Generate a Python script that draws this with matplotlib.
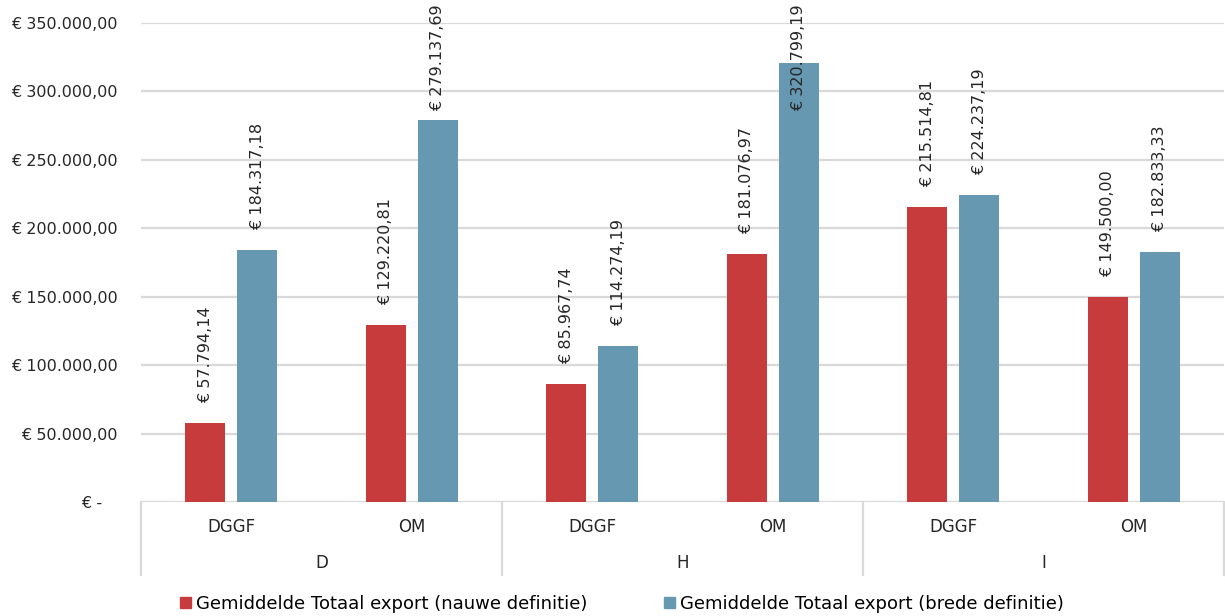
import matplotlib
matplotlib.use("Agg")
import matplotlib.pyplot as plt
from matplotlib.lines import Line2D
from matplotlib.patches import Patch

plt.rcParams['font.family'] = ['DejaVu Sans']

# data
categories = ['DGGF', 'OM', 'DGGF', 'OM', 'DGGF', 'OM']
groups = ['D', 'H', 'I']
nauwe = [57794.14, 129220.81, 85967.74, 181076.97, 215514.81, 149500.00]
brede = [184317.18, 279137.69, 114274.19, 320799.19, 224237.19, 182833.33]
series_names = ['Gemiddelde Totaal export (nauwe definitie)',
                'Gemiddelde Totaal export (brede definitie)']
yticks = [0, 50000, 100000, 150000, 200000, 250000, 300000, 350000]

RED = '#C83B3C'
BLUE = '#6699B1'
GRID = '#D9D9D9'
TXT = '#262626'


def euro(v):
    if v == 0:
        return '€ -'
    s = f"{v:,.2f}"
    s = s.replace(',', 'X').replace('.', ',').replace('X', '.')
    return '€ ' + s


W, H = 1225, 616
fig = plt.figure(figsize=(W / 100, H / 100), dpi=100)
ax = fig.add_axes([141 / W, (H - 502) / H, (1224 - 141) / W, (502 - 23) / H])

x = list(range(len(categories)))
bw = 0.222
off = 0.144
b1 = ax.bar([i - off for i in x], nauwe, bw, color=RED, zorder=3)
b2 = ax.bar([i + off for i in x], brede, bw, color=BLUE, zorder=3)

ax.set_xlim(-0.5, len(categories) - 0.5)
ax.set_ylim(0, 350000)
ax.set_yticks(yticks)
ylabels = [euro(v) for v in yticks]
ylabels[0] = ylabels[0] + '   '
ax.set_yticklabels(ylabels, fontsize=11.5, color=TXT)
ax.tick_params(axis='y', length=0, pad=17)
ax.set_xticks([])
for s in ax.spines.values():
    s.set_visible(False)
ax.grid(axis='y', color=GRID, linewidth=1.6, zorder=0)

# data labels
anns = []
for bars, vals in ((b1, nauwe), (b2, brede)):
    for rect, v in zip(bars, vals):
        a = ax.annotate(euro(v), (rect.get_x() + rect.get_width() / 2, v),
                        xytext=(0, 20), textcoords='offset pixels',
                        rotation=90, ha='center', va='bottom',
                        fontsize=11.5, color=TXT, annotation_clip=False, zorder=4)
        anns.append(a)

fig.canvas.draw()
for a in anns:
    bb = a.get_window_extent()
    if bb.y1 > H - 4:
        a.xyann = (0, 20 - (bb.y1 - (H - 4)))

# multi-level x axis
axh = 502 - 23
for i, c in enumerate(categories):
    ax.text(i, -25 / axh, c, transform=ax.get_xaxis_transform(),
            ha='center', va='center', fontsize=12, color=TXT)
for g, name in enumerate(groups):
    ax.text(2 * g + 0.5, -61 / axh, name, transform=ax.get_xaxis_transform(),
            ha='center', va='center', fontsize=12, color=TXT)
for xs in [-0.5, 1.5, 3.5, 5.5]:
    ax.add_line(Line2D([xs, xs], [0, -73 / axh], transform=ax.get_xaxis_transform(),
                       color=GRID, linewidth=1.6, clip_on=False))

handles = [Patch(color=RED), Patch(color=BLUE)]
fig.legend(handles, series_names, loc='center', bbox_to_anchor=(622 / W, (H - 604) / H),
           ncol=2, frameon=False, fontsize=13, handlelength=0.6, handleheight=0.6,
           handletextpad=0.3, columnspacing=4.2)

fig.savefig('out.png', dpi=100)
